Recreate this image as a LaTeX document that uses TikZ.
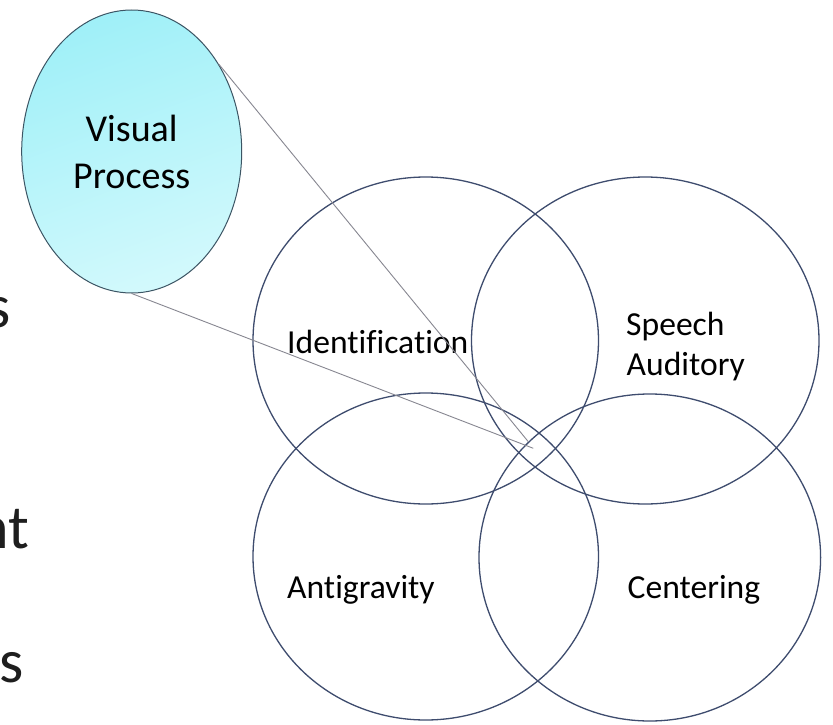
\documentclass[tikz,border=0pt]{standalone}
\usepackage{fontspec}
\setmainfont[Ligatures=CommonOff]{Carlito}
\usetikzlibrary{shapes.geometric}
\definecolor{ringcol}{RGB}{62,76,110}
\definecolor{vpdark}{RGB}{160,240,248}
\definecolor{vplight}{RGB}{210,249,252}
\definecolor{vpedge}{RGB}{60,85,100}
\definecolor{calloutcol}{RGB}{135,135,145}
\definecolor{fragcol}{RGB}{30,30,30}
\tikzset{
  ring/.style={ellipse, draw=ringcol, line width=1.3pt, inner sep=0pt},
  lbl/.style={inner sep=0pt, font=\fontsize{33.6}{40}\selectfont, text=black},
  frag/.style={inner sep=0pt, font=\fontsize{62}{70}\selectfont, text=fragcol},
  callout/.style={draw=calloutcol, line width=0.9pt}
}
\begin{document}
\begin{tikzpicture}[x=1pt,y=-1pt]
\useasboundingbox (0,0) rectangle (833,725);
\clip (0,0) rectangle (833,725);
\fill[white] (0,0) rectangle (833,725);

% left fragments of cut-off text
\node[frag, anchor=base west] (f1) at (-14,327) {s};
\node[frag, anchor=base west] (f2) at (-24,548) {nt};
\node[frag, anchor=base west] (f3) at (-1,682) {s};

% four rings
\node[ring, minimum width=345.5pt, minimum height=327pt] (ident) at (425.75,340.5) {};
\node[ring, minimum width=347.5pt, minimum height=327pt] (speech) at (645.25,340.5) {};
\node[ring, minimum width=345.5pt, minimum height=327pt] (anti) at (425.75,556.5) {};
\node[ring, minimum width=341.6pt, minimum height=327pt] (center) at (649.8,557.5) {};

% labels
\node[lbl, anchor=base west] (tident) at (287,353) {Identification};
\node[lbl, anchor=base west] (tspeech) at (626,335) {Speech};
\node[lbl, anchor=base west] (taud) at (626.5,375) {Auditory};
\node[lbl, anchor=base west] (tanti) at (287,598) {Antigravity};
\node[lbl, anchor=base west] (tcent) at (627.5,598) {Centering};

% visual process ellipse
\node[ellipse, draw=vpedge, line width=1pt, top color=vpdark, bottom color=vplight,
      shading angle=20, minimum width=220pt, minimum height=283pt, inner sep=0pt,
      align=center, font=\fontsize{38}{48}\selectfont, text=black] (vp) at (131.7,151.5)
      {Visual\\[-1pt]Process};

% callout lines
\coordinate (tip1) at (528.3,441.7);
\coordinate (tip2) at (533.3,448.3);
\draw[callout] (vp.45) -- (tip1);
\draw[callout] (vp.270) -- (tip2);
\end{tikzpicture}
\end{document}
